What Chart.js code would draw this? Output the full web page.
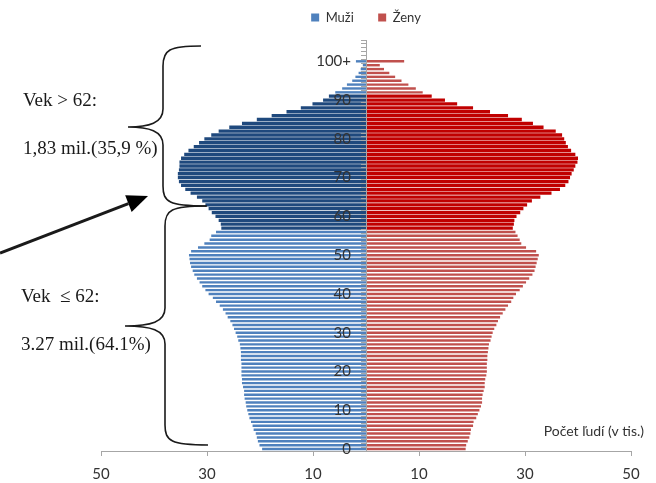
<!DOCTYPE html>
<html>
<head>
<meta charset="utf-8">
<script src="https://cdn.jsdelivr.net/npm/chart.js@4.4.0/dist/chart.umd.min.js"></script>
<style>
  html, body { margin: 0; padding: 0; background: #fff; }
</style>
</head>
<body>
<canvas id="pyramid" width="656" height="483"></canvas>
<script>
  // rows on the age axis (0 .. 100+, the last few rows stay empty)
  const maxAge = 105;
  const ageTicks = ["0", "10", "20", "30", "40", "50", "60", "70", "80", "90", "100+"];

  // population in thousands, index = age, last value is 100+
  const men = [
    19.6, 20.1, 20.4, 20.6, 20.8, 21.2, 21.4, 21.7, 22.0, 22.2,
    22.4, 22.6, 22.7, 22.9, 23.0, 23.0, 23.2, 23.4, 23.4, 23.5,
    23.5, 23.5, 23.5, 23.6, 23.6, 23.6, 23.7, 23.8, 24.1, 24.3,
    24.6, 24.9, 25.2, 25.6, 26.1, 26.5, 27.0, 27.6, 28.3, 28.9,
    29.7, 30.3, 30.9, 31.4, 31.9, 32.4, 32.7, 33.0, 33.2, 33.3,
    33.4, 33.0, 31.7, 30.5, 29.5, 29.2, 28.3, 27.3, 27.4, 27.8,
    28.4, 29.1, 29.7, 30.3, 30.9, 31.9, 33.1, 34.1, 34.9, 35.3,
    35.5, 35.5, 35.3, 35.2, 35.2, 34.9, 34.3, 33.5, 32.5, 31.5,
    30.5, 29.2, 27.8, 25.8, 23.4, 20.6, 17.8, 15.0, 12.3, 10.1,
    8.1, 7.0, 5.8, 4.5, 3.6, 2.6, 2.0, 1.4, 1.0, 0.6,
    1.9
  ];
  const women = [
    18.8, 18.9, 19.2, 19.5, 19.7, 19.8, 20.2, 20.3, 20.8, 21.1,
    21.4, 21.7, 21.9, 21.9, 22.0, 22.2, 22.4, 22.4, 22.5, 22.7,
    22.8, 22.8, 22.8, 22.9, 22.9, 23.0, 23.1, 23.2, 23.5, 23.7,
    23.9, 24.2, 24.6, 24.9, 25.3, 25.8, 26.3, 26.8, 27.4, 27.8,
    28.3, 29.0, 29.6, 30.2, 30.8, 31.4, 31.8, 32.0, 32.2, 32.4,
    32.6, 32.1, 30.2, 29.3, 29.0, 28.6, 28.2, 27.7, 27.9, 28.0,
    28.4, 29.1, 29.7, 30.4, 31.3, 32.9, 35.0, 36.6, 37.6, 38.2,
    38.5, 38.8, 39.2, 39.5, 39.9, 40.0, 39.5, 38.7, 38.1, 37.7,
    37.4, 37.0, 35.8, 33.5, 31.5, 29.4, 26.8, 23.4, 20.2, 17.2,
    14.9, 12.4, 10.7, 9.4, 8.0, 6.7, 5.5, 4.4, 3.4, 2.6,
    7.2
  ];

  // ages drawn in the darker shade
  const darkFrom = 57;
  const darkTo = 91;

  const ages = [];
  for (let a = 0; a <= maxAge; a++) ages.push(String(a));

  const isDark = a => a >= darkFrom && a <= darkTo;
  const menLight = men.map((v, a) => isDark(a) ? null : -v);
  const menDark = men.map((v, a) => isDark(a) ? -v : null);
  const womenLight = women.map((v, a) => isDark(a) ? null : v);
  const womenDark = women.map((v, a) => isDark(a) ? v : null);

  const axisGray = "#a6a6a6";
  const textColor = "#333333";

  // taller legend block so the plot starts lower
  const legendGap = {
    id: "legendGap",
    beforeInit(chart) {
      const fit = chart.legend.fit;
      chart.legend.fit = function () {
        fit.bind(chart.legend)();
        this.height += 6;
      };
    }
  };

  function brace(ctx, tx, ty, bx, by, cx, cy, sx) {
    ctx.beginPath();
    ctx.moveTo(tx, ty);
    ctx.bezierCurveTo(sx + 6, ty, sx, ty + 4, sx, ty + 20);
    ctx.lineTo(sx, cy - 18);
    ctx.bezierCurveTo(sx, cy - 4, sx - 14, cy, cx, cy);
    ctx.bezierCurveTo(sx - 14, cy, sx, cy + 4, sx, cy + 18);
    ctx.lineTo(sx, by - 20);
    ctx.bezierCurveTo(sx, by - 4, sx + 6, by, bx, by);
    ctx.stroke();
  }

  // side notes: braces, totals and the arrow
  const notes = {
    id: "notes",
    afterDraw(chart) {
      const ctx = chart.ctx;
      ctx.save();
      ctx.fillStyle = "#1a1a1a";
      ctx.textAlign = "left";
      ctx.textBaseline = "alphabetic";
      ctx.font = '19px "Liberation Serif"';
      ctx.fillText("Vek > 62:", 23, 106);
      ctx.fillText("1,83 mil.(35,9 %)", 23, 154);
      ctx.fillText("Vek  \u2264 62:", 21, 302);
      ctx.fillText("3.27 mil.(64.1%)", 21, 350);

      ctx.strokeStyle = "#1a1a1a";
      ctx.lineWidth = 1.6;
      brace(ctx, 201, 46, 206, 206, 128, 127, 163);
      brace(ctx, 207, 206, 208, 445, 125, 326, 165);

      // arrow
      const x0 = 0, y0 = 253, x1 = 148, y1 = 196;
      const len = Math.hypot(x1 - x0, y1 - y0);
      const ux = (x1 - x0) / len, uy = (y1 - y0) / len;
      const hx = x1 - ux * 21, hy = y1 - uy * 21;
      ctx.lineWidth = 3;
      ctx.beginPath();
      ctx.moveTo(x0, y0);
      ctx.lineTo(hx, hy);
      ctx.stroke();
      ctx.fillStyle = "#000";
      ctx.beginPath();
      ctx.moveTo(x1, y1);
      ctx.lineTo(hx - uy * 9, hy + ux * 9);
      ctx.lineTo(hx + uy * 9, hy - ux * 9);
      ctx.closePath();
      ctx.fill();

      ctx.fillStyle = textColor;
      ctx.font = '14px "Lato"';
      ctx.textAlign = "right";
      ctx.fillText("Počet ľudí (v tis.)", 644, 436);
      ctx.restore();
    }
  };

  const ctx = document.getElementById("pyramid").getContext("2d");
  new Chart(ctx, {
    type: "bar",
    data: {
      labels: ages,
      datasets: [
        { label: "Muži    ", data: menLight, backgroundColor: "#4F81BD", barPercentage: 0.62 },
        { label: "Muži", data: menDark, backgroundColor: "#1F497D", barPercentage: 0.85 },
        { label: "Ženy", data: womenLight, backgroundColor: "#C0504D", barPercentage: 0.62 },
        { label: "Ženy", data: womenDark, backgroundColor: "#C00000", barPercentage: 0.85 }
      ].map(d => Object.assign(d, { grouped: false, categoryPercentage: 1, borderWidth: 0 }))
    },
    options: {
      indexAxis: "y",
      responsive: false,
      animation: false,
      layout: { padding: { left: 101, right: 25, top: 0, bottom: 0 } },
      plugins: {
        legend: {
          position: "top",
          labels: {
            boxWidth: 8,
            boxHeight: 8,
            padding: 11,
            color: textColor,
            font: { family: "Lato", size: 13 },
            filter: item => item.datasetIndex === 0 || item.datasetIndex === 2
          }
        },
        tooltip: { enabled: false }
      },
      scales: {
        x: {
          type: "linear",
          min: -50,
          max: 50,
          afterFit: scale => { scale.height = 32; },
          ticks: {
            stepSize: 20,
            padding: 9,
            color: textColor,
            font: { family: "Lato", size: 15 },
            callback: v => Math.abs(v)
          },
          grid: { drawOnChartArea: false, tickLength: 5, color: axisGray },
          border: { color: axisGray }
        },
        y: {
          type: "category",
          reverse: true,
          position: { x: 0 },
          afterFit: scale => { scale.paddingTop = 0; scale.paddingBottom = 0; },
          ticks: {
            z: 1,
            autoSkip: false,
            color: textColor,
            font: { family: "Lato", size: 15 },
            // en spaces keep the labels clear of the axis line
            callback: (v, i) => (i % 10 === 0 && i <= 100) ? ageTicks[i / 10] + "\u2002\u2002" : ""
          },
          grid: { z: 1, drawOnChartArea: false, tickLength: 5, color: axisGray },
          border: { z: 1, color: axisGray }
        }
      }
    },
    plugins: [legendGap, notes]
  });
</script>
</body>
</html>
